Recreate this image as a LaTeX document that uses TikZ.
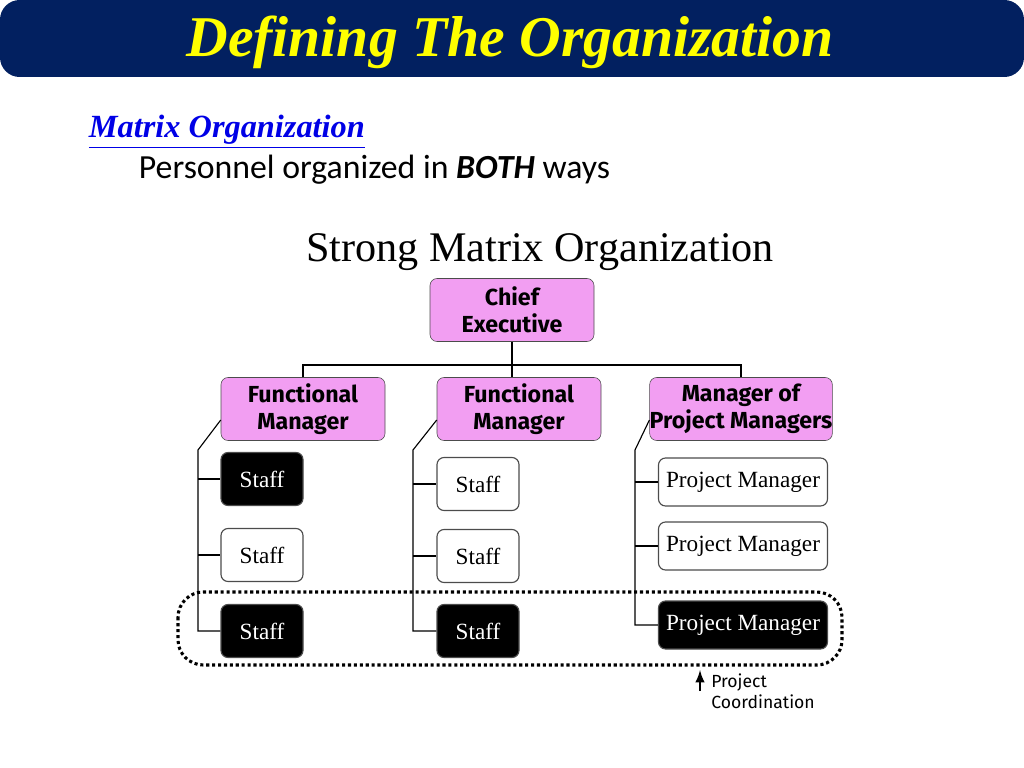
\documentclass[tikz,border=0pt]{standalone}
\usepackage{fontspec}
\setmainfont{Liberation Serif}
\newfontfamily\calibri{Carlito}
\newfontfamily\comic{Fira Sans}
\usetikzlibrary{positioning,calc}
\definecolor{barblue}{RGB}{2,32,96}
\definecolor{titleyellow}{RGB}{255,255,0}
\definecolor{linkblue}{RGB}{0,0,230}
\definecolor{boxpink}{RGB}{242,158,242}
\tikzset{
  mgrbox/.style={rectangle, rounded corners=5pt, draw=black!70, fill=boxpink, align=center, font=\comic\bfseries\fontsize{16.5}{19}\selectfont, inner sep=0pt},
  staffbox/.style={rectangle, rounded corners=5pt, draw=black!70, thick, fill=white, font=\fontsize{16.5}{19}\selectfont, inner sep=0pt},
  darkbox/.style={staffbox, fill=black, text=white},
  link/.style={draw=black, line width=0.8pt},
}
\begin{document}
\begin{tikzpicture}[x=0.025cm,y=-0.025cm]
    \useasboundingbox (0,0) rectangle (1024,768);
    % Header
    \fill[barblue, rounded corners=14pt] (0,0) rectangle (1024,77);
    \node (title) at (510,42) {\color{titleyellow}\bfseries\itshape\fontsize{41}{44}\selectfont Defining The Organization};
    \node (matrix) [anchor=base west] at (84,138) {\color{linkblue}\bfseries\itshape\fontsize{23}{26}\selectfont\underline{Matrix Organization}};
    \node (personnel) [anchor=base west] at (134,179) {\calibri\fontsize{24}{26}\selectfont Personnel organized in \textbf{\itshape BOTH} ways};
    \node (strong) at (540,252) {\fontsize{30}{33}\selectfont Strong Matrix Organization};

    %Nodes
    \node (chief) [mgrbox, minimum width=164*0.025cm, minimum height=63*0.025cm] at (512,310) {Chief\\Executive};
    \begin{scope}[every node/.append style={minimum width=164*0.025cm, minimum height=63*0.025cm}]
    \node (fm_one)   [mgrbox] at (303,409) {Functional\\Manager};
    \node (fm_two)   [mgrbox] at (519,409) {Functional\\Manager};
    \node (mpm)      [mgrbox] at (741,409) {Manager of\\Project Managers};
    \end{scope}
    \begin{scope}[every node/.append style={minimum width=82*0.025cm, minimum height=53*0.025cm}]
    \node (staff_a1) [darkbox]  at (262,479) {Staff};
    \node (staff_a2) [staffbox] at (262,555) {Staff};
    \node (staff_a3) [darkbox]  at (262,631) {Staff};
    \node (staff_b1) [staffbox] at (478,484) {Staff};
    \node (staff_b2) [staffbox] at (478,556) {Staff};
    \node (staff_b3) [darkbox]  at (478,631) {Staff};
    \end{scope}
    \begin{scope}[every node/.append style={minimum width=169*0.025cm, minimum height=48*0.025cm}]
    \node (pm_one)   [staffbox] at (743,482) {Project Manager};
    \node (pm_two)   [staffbox] at (743,546) {Project Manager};
    \node (pm_three) [darkbox]  at (743,625) {Project Manager};
    \end{scope}

    %Lines
    \coordinate (split) at (512,365);
    \draw[link] (chief.south) -- (split);
    \draw[link] (fm_one.north) |- (split) -| (mpm.north);
    \draw[link] (split) -- (fm_two.north -| split);
    \coordinate (spine_a) at (198,450);
    \coordinate (spine_b) at (413,450);
    \coordinate (spine_c) at (635,450);
    \draw[link] ($(fm_one.west)+(0,11)$) -- (spine_a) |- (staff_a3.west);
    \draw[link] ($(fm_two.west)+(0,11)$) -- (spine_b) |- (staff_b3.west);
    \draw[link] ($(mpm.west)+(0,11)$) -- (spine_c) |- (pm_three.west);
    \foreach \n in {staff_a1,staff_a2} \draw[link] (spine_a |- \n.west) -- (\n.west);
    \foreach \n in {staff_b1,staff_b2} \draw[link] (spine_b |- \n.west) -- (\n.west);
    \foreach \n in {pm_one,pm_two} \draw[link] (spine_c |- \n.west) -- (\n.west);

    % Project coordination
    \draw[line width=2.2pt, dotted, rounded corners=18pt] (178,592) rectangle (842,665);
    \coordinate (tip) at (700,670);
    \draw[-latex, line width=2pt] (700,691) -- (tip);
    \node (coord) [anchor=north west, align=left, inner sep=0pt, font=\comic\fontsize{12.5}{15.5}\selectfont] at (711,673) {Project\\Coordination};
\end{tikzpicture}
\end{document}
